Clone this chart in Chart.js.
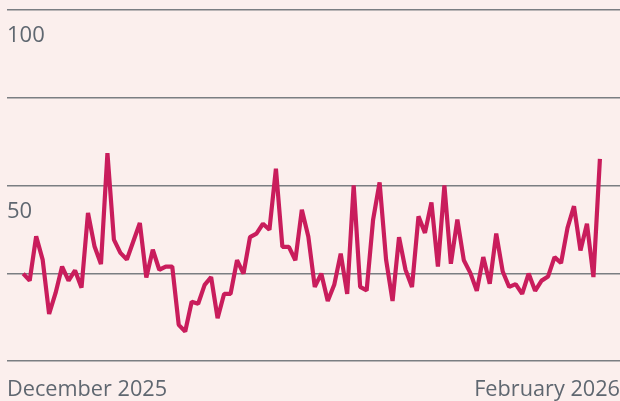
<!DOCTYPE html>
<html>
<head>
<meta charset="utf-8">
<script src="https://cdn.jsdelivr.net/npm/chart.js@4"></script>
<style>
    html, body { margin: 0; padding: 0; background: #fbefed; }
    #wrap { width: 620px; height: 401px; position: relative; }
</style>
</head>
<body>
<div id="wrap"><canvas id="myChart"></canvas></div>
<script>
// daily readings, one per day
const values = [
    24.9, 22.9, 35.5, 28.9, 13.4, 19.4, 26.9, 22.9, 25.8, 20.9,
    42.2, 32.7, 27.6, 59.2, 34.6, 30.8, 28.9, 34.1, 39.3, 23.8,
    31.7, 26.0, 26.9, 26.9, 10.3, 8.4, 16.9, 16.3, 21.7, 23.9,
    12.2, 19.1, 19.1, 28.7, 24.9, 35.3, 36.3, 39.1, 37.4, 54.8,
    32.5, 32.5, 28.7, 43.1, 35.5, 21.1, 24.9, 17.1, 21.7, 30.6,
    19.1, 50.0, 21.1, 20.1, 40.3, 50.9, 28.9, 17.1, 35.3, 26.0,
    21.1, 41.2, 36.5, 45.2, 26.9, 50.0, 27.7, 40.3, 28.7, 25.1,
    20.0, 29.6, 22.0, 36.3, 25.5, 21.1, 21.9, 19.1, 24.9, 20.0,
    22.9, 24.1, 29.6, 27.9, 37.9, 44.1, 31.5, 39.1, 23.9, 57.6
];
const xLabels = ["December 2025", "February 2026"];
const yTicks = [0, 25, 50, 75, 100];
const yLabels = { 50: "50", 100: "100" };

const ctx = document.getElementById("myChart").getContext("2d");

const points = values.map((v, i) => ({ x: i, y: v }));

const xMin = -2.5;
const xMax = values.length - 1 + 3.1;

const config = {
    type: "line",
    data: {
        datasets: [
            {
                data: points,
                borderColor: "#c91d5c",
                borderWidth: 4.2,
                pointRadius: 0,
                pointHoverRadius: 0,
                tension: 0,
                borderJoinStyle: "bevel",
            },
        ],
    },
    options: {
        responsive: true,
        maintainAspectRatio: false,
        animation: false,
        layout: {
            autoPadding: false,
            padding: { left: 7, right: 0, top: 10, bottom: 0 },
        },
        plugins: {
            legend: { display: false },
            tooltip: { enabled: false },
        },
        scales: {
            x: {
                type: "linear",
                min: xMin,
                max: xMax,
                afterBuildTicks: (scale) => {
                    scale.ticks = [{ value: xMin }, { value: xMax }];
                },
                afterFit: (scale) => {
                    scale.height = 40;
                },
                grid: { display: false },
                border: { display: false },
                ticks: {
                    autoSkip: false,
                    maxRotation: 0,
                    align: "inner",
                    padding: 0,
                    color: "#5f6770",
                    font: { family: "'Open Sans'", size: 21.7, lineHeight: "42px" },
                    callback: (value, index) => xLabels[index],
                },
            },
            y: {
                min: 0,
                max: 100,
                afterBuildTicks: (scale) => {
                    scale.ticks = yTicks.map((v) => ({ value: v }));
                },
                grid: {
                    color: "#7a7e82",
                    lineWidth: 1.4,
                    drawTicks: false,
                },
                border: { display: false },
                ticks: {
                    mirror: true,
                    padding: 0,
                    labelOffset: 26,
                    color: "#5f6770",
                    font: { family: "'Open Sans'", size: 22, lineHeight: "12px" },
                    callback: (value) => yLabels[value] || "",
                },
            },
        },
    },
};

const myChart = new Chart(ctx, config);
</script>
</body>
</html>
